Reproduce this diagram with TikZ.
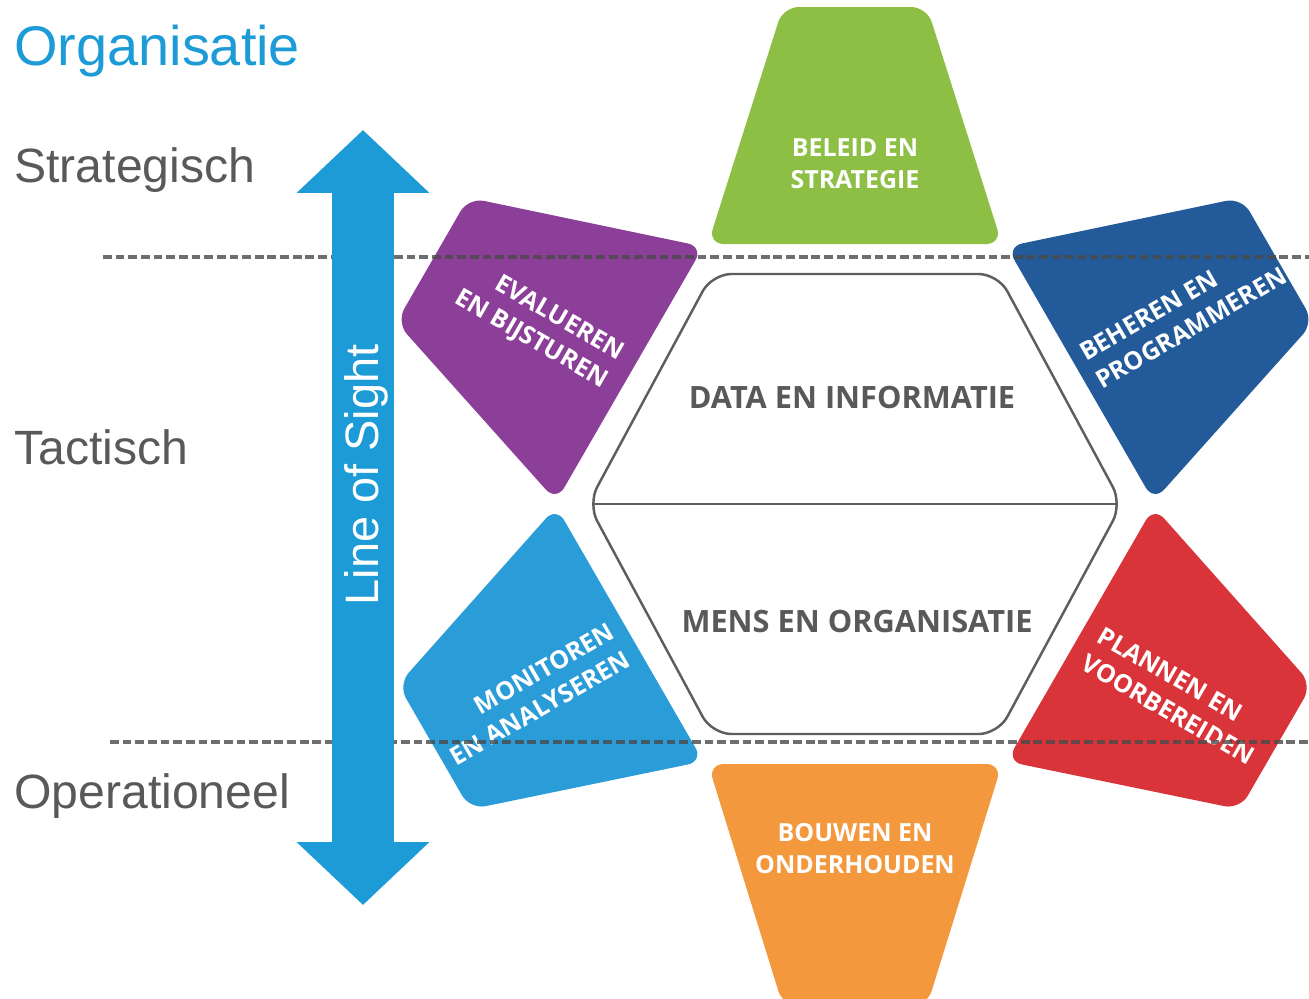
\documentclass[tikz,border=0pt]{standalone}
\usepackage{fontspec}
\setmainfont{Liberation Sans}
\newfontfamily\petalfont{Open Sans}
\usetikzlibrary{arrows.meta,positioning,calc}
\definecolor{Sky}{HTML}{1C9BD7}
\definecolor{Slate}{HTML}{595959}
\definecolor{HexLine}{HTML}{5E5E5E}
\definecolor{Dash}{HTML}{4A4A4A}
\definecolor{Leaf}{HTML}{8DBF45}
\definecolor{Plum}{HTML}{8B3F98}
\definecolor{Navy}{HTML}{225A9A}
\definecolor{Brick}{HTML}{D9343A}
\definecolor{Aqua}{HTML}{2A9CD8}
\definecolor{Amber}{HTML}{F4983E}
\tikzset{level/.style={anchor=base west,inner sep=0pt,text=Slate,
    font=\fontsize{27.4}{30}\selectfont},
  title/.style={level,text=Sky,font=\fontsize{31.8}{34}\selectfont},
  petal/.style={rounded corners=9pt},
  hexline/.style={draw=HexLine,line width=1.4pt,rounded corners=11pt},
  petaltext/.style={text=white,align=center,inner sep=0pt,
    font=\petalfont\bfseries\fontsize{14.2}{18.2}\selectfont},
  hextext/.style={text=Slate,font=\petalfont\bfseries\fontsize{17.5}{20}\selectfont},
  layer/.style={draw=Dash,line width=2.1pt,dash pattern=on 5pt off 2.2pt,opacity=0.8},
  sight/.style={draw=Sky,line width=35.8pt,
    {Triangle[width=73.4pt,length=35.8pt]}-{Triangle[width=73.4pt,length=35.8pt]}},
  sighttext/.style={text=white,rotate=90,font=\fontsize{26.7}{30}\selectfont}}

\begin{document}
\begin{tikzpicture}[x=0.02cm,y=-0.02cm]
  \useasboundingbox (0,0) rectangle (1309,998);
  \clip (0,0) rectangle (1309,998);
  \coordinate (hc) at (855,504);
  % six petals round the hexagon
  \foreach \ang/\col/\r in {0/Leaf/497,60/Plum/488,120/Aqua/486,180/Amber/502,240/Brick/486,300/Navy/488}{
    \begin{scope}[shift={(hc)},rotate=\ang]
      \fill[petal,\col] (-147,-260) -- (147,-260) -- (72,-\r) -- (-72,-\r) -- cycle;
    \end{scope}}
  % centre hexagon
  \draw[hexline,fill=white] (712,274) -- (998,274) -- (1122,504) -- (998,734)
    -- (712,734) -- (588,504) -- cycle;
  \coordinate (hw) at (592,504);
  \coordinate (he) at (1118,504);
  \draw[hexline] (hw) -- (he);
  \node[hextext] (data) at (852,397) {DATA EN INFORMATIE};
  \node[hextext] (mens) at (857,621) {MENS EN ORGANISATIE};
  \node[petaltext] (beleid) at (855,164) {BELEID EN\\STRATEGIE};
  \node[petaltext] (bouwen) at (855,849) {BOUWEN EN\\ONDERHOUDEN};
  \node[petaltext,align=right,rotate=-30] (evalueren) at (539,326) {EVALUEREN\\EN BIJSTUREN};
  \node[petaltext,align=left,rotate=30] (beheren) at (1183,314) {BEHEREN EN\\PROGRAMMEREN};
  \node[petaltext,align=right,rotate=30] (monitoren) at (532,694) {MONITOREN\\EN ANALYSEREN};
  \node[petaltext,align=left,rotate=-30] (plannen) at (1176,696) {PLANNEN EN\\VOORBEREIDEN};
  % level borders
  \coordinate (sw) at (103,257);
  \coordinate (se) at (1309,257);
  \coordinate (ow) at (110,742);
  \coordinate (oe) at (1309,742);
  \draw[layer] (sw) -- (se);
  \draw[layer] (ow) -- (oe);
  % line of sight
  \coordinate (lostop) at (363,130);
  \coordinate (losbot) at (363,905);
  \draw[sight] (losbot) -- (lostop);
  \node[sighttext] (los) at (366,475) {Line of Sight};
  \node[title] (org) at (14,65) {Organisatie};
  \node[level] (strat) at (14,182) {Strategisch};
  \node[level] (tact) at (14,464) {Tactisch};
  \node[level] (oper) at (14,808) {Operationeel};
\end{tikzpicture}
\end{document}
